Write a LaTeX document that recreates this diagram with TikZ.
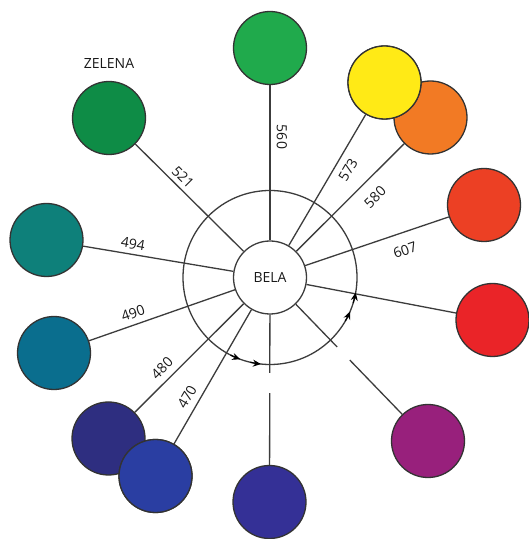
\documentclass[tikz,border=0pt]{standalone}
\usepackage{fontspec}
\setmainfont{Open Sans}
\usetikzlibrary{arrows.meta,calc}
\definecolor{c521}{RGB}{14,140,70}
\definecolor{c560}{RGB}{32,170,76}
\definecolor{c573}{RGB}{255,234,22}
\definecolor{c580}{RGB}{242,122,36}
\definecolor{c607}{RGB}{236,64,36}
\definecolor{cred}{RGB}{234,36,40}
\definecolor{cpur}{RGB}{152,32,124}
\definecolor{cvio}{RGB}{52,48,150}
\definecolor{c470}{RGB}{42,62,162}
\definecolor{c480}{RGB}{46,46,128}
\definecolor{c490}{RGB}{10,110,142}
\definecolor{c494}{RGB}{14,128,122}
\definecolor{lne}{RGB}{60,60,60}
\tikzset{
  disc/.style={circle,draw=black!80,line width=1.3pt,minimum size=73pt,inner sep=0pt},
  conn/.style={draw=lne,line width=1.3pt},
  lbl/.style={font=\fontsize{14}{14}\selectfont,text=black!90,inner sep=0pt},
  tip/.style={draw=black,line width=1.2pt,-{Stealth[length=8pt,width=7pt]}}
}
\begin{document}
\begin{tikzpicture}[x=1pt,y=1pt]
\useasboundingbox[fill=white] (0,0) rectangle (529,539);
% center
\node[circle,draw=lne,line width=1.3pt,fill=white,minimum size=73pt,inner sep=0pt] (bela) at (270,261.5) {};
\draw[lne,line width=1.3pt] (bela.center) circle[radius=87pt];
% discs
\node[disc,fill=c560] (d560) at (270,491) {};
\node[disc,fill=c580] (d580) at (430.5,421.5) {};
\node[disc,fill=c573] (d573) at (384.5,456.5) {};
\node[disc,fill=c607] (d607) at (484,334) {};
\node[disc,fill=cred] (dred) at (492.5,219) {};
\node[disc,fill=cpur] (dpur) at (428,98) {};
\node[disc,fill=cvio] (dvio) at (269.5,37) {};
\node[disc,fill=c480] (d480) at (108.5,100.5) {};
\node[disc,fill=c470] (d470) at (155.5,63) {};
\node[disc,fill=c490] (d490) at (54,186) {};
\node[disc,fill=c494] (d494) at (46.5,299) {};
\node[disc,fill=c521] (d521) at (109,421) {};
% gap coordinates
\coordinate (pg1) at ($(bela.center)!0.425!(dpur.center)$);
\coordinate (pg2) at ($(bela.center)!0.505!(dpur.center)$);
\coordinate (vg1) at ($(bela.center)!0.425!(dvio.center)$);
\coordinate (vg2) at ($(bela.center)!0.515!(dvio.center)$);
% connectors
\foreach \d in {d560,d573,d580,d607,dred,d480,d470,d490,d494,d521}
  \path[conn] (bela) -- (\d);
\path[conn] (bela) -- (pg1);
\path[conn] (pg2) -- (dpur);
\path[conn] (bela) -- (vg1);
\path[conn] (vg2) -- (dvio);
% redraw overlapping discs on top of lines
\node[disc,fill=c573] at (d573) {};
\node[disc,fill=c470] at (d470) {};
% center text
\node[lbl] (belat) at (bela.center) {BELA};
\node[lbl] (zel) at (109,476) {ZELENA};
% labels
\node[lbl,rotate=-45] (l521) at (183,362) {521};
\node[lbl,rotate=-9.5] (l494) at (133,295) {494};
\node[lbl,rotate=19] (l490) at (133,226) {490};
\node[lbl,rotate=45] (l480) at (162,171) {480};
\node[lbl,rotate=60] (l470) at (187,142) {470};
\node[lbl,rotate=-90] (l560) at (282,402) {560};
\node[lbl,rotate=60] (l573) at (348,369) {573};
\node[lbl,rotate=45] (l580) at (375,342) {580};
\node[lbl,rotate=19] (l607) at (405,289) {607};
% arrow tips on outer circle
\draw[tip] ([shift={(-17:87pt)}]bela.center) arc[start angle=-17,end angle=-10,radius=87pt];
\draw[tip] ([shift={(-30:87pt)}]bela.center) arc[start angle=-30,end angle=-23,radius=87pt];
\draw[tip] ([shift={(-117:87pt)}]bela.center) arc[start angle=-117,end angle=-110,radius=87pt];
\draw[tip] ([shift={(-103:87pt)}]bela.center) arc[start angle=-103,end angle=-96,radius=87pt];
\end{tikzpicture}
\end{document}
